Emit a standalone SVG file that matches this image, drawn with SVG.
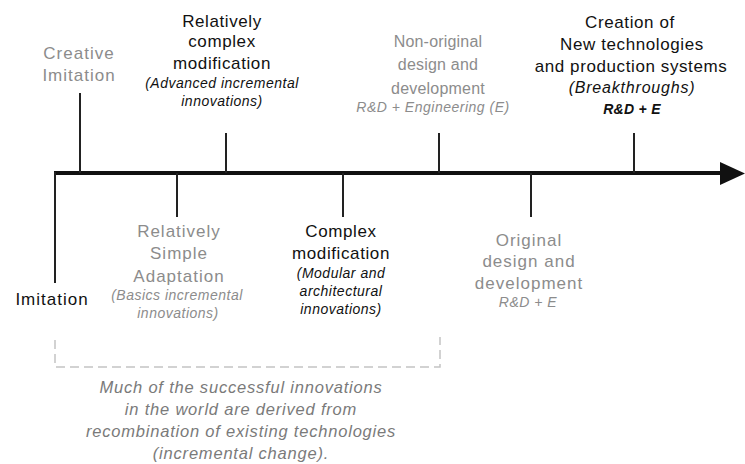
<svg xmlns="http://www.w3.org/2000/svg" width="745" height="464" viewBox="0 0 745 464">
<style>
text{font-family:"Liberation Sans",Arial,sans-serif;text-anchor:middle}
.k{fill:#111;font-size:17px;letter-spacing:0.6px}
.g{fill:#8c8c8c;font-size:17px;letter-spacing:1px}
.g2{fill:#8c8c8c;font-size:16px;letter-spacing:0.2px}
.ki{fill:#111;font-size:14px;font-style:italic;letter-spacing:0.5px}
.gi{fill:#8c8c8c;font-size:14px;font-style:italic;letter-spacing:0.5px}
.foot{fill:#7a7a7a;font-size:16.5px;font-style:italic;letter-spacing:0.8px}
.tick{stroke:#222;stroke-width:2;fill:none}
.dash{stroke:#c4c4c4;stroke-width:1.5;fill:none;stroke-dasharray:9 5}
</style>
<rect width="745" height="464" fill="#fff"/>
<g id="connectors">
<line x1="54" y1="173" x2="722" y2="173" stroke="#111" stroke-width="4"/>
<polygon points="720,162 745,173.5 720,185" fill="#111"/>
<line class="tick" x1="55" y1="172" x2="55" y2="283"/>
<line class="tick" x1="80" y1="93" x2="80" y2="173"/>
<line class="tick" x1="226" y1="133" x2="226" y2="173"/>
<line class="tick" x1="439" y1="133" x2="439" y2="173"/>
<line class="tick" x1="634" y1="133" x2="634" y2="173"/>
<line class="tick" x1="177" y1="173" x2="177" y2="217"/>
<line class="tick" x1="343" y1="173" x2="343" y2="217"/>
<line class="tick" x1="531" y1="173" x2="531" y2="217"/>
<path class="dash" d="M55,340 V367 H440 V337"/>
</g>
<g id="creative-imitation">
<text class="g" x="79" y="59">Creative</text>
<text class="g" x="79" y="81">Imitation</text>
</g>
<g id="relatively-complex">
<text class="k" x="222" y="27">Relatively</text>
<text class="k" x="222" y="47">complex</text>
<text class="k" x="222" y="69">modification</text>
<text class="ki" x="222" y="88">(Advanced  incremental</text>
<text class="ki" x="222" y="106">innovations)</text>
</g>
<g id="non-original">
<text class="g2" x="438" y="47">Non-original</text>
<text class="g2" x="438" y="70">design and</text>
<text class="g2" x="438" y="94">development</text>
<text class="gi" x="433" y="112">R&amp;D + Engineering  (E)</text>
</g>
<g id="creation">
<text class="k" x="630" y="28">Creation of</text>
<text class="k" x="632" y="50">New technologies</text>
<text class="k" x="631" y="72">and production systems</text>
<text class="ki" x="632" y="93" style="font-size:16px;letter-spacing:0.8px">(Breakthroughs)</text>
<text class="ki" x="632" y="114" style="font-weight:bold;letter-spacing:0.3px">R&amp;D + E</text>
</g>
<g id="imitation">
<text class="k" x="52" y="305" style="letter-spacing:1px">Imitation</text>
</g>
<g id="simple-adaptation">
<text class="g" x="179" y="237">Relatively</text>
<text class="g" x="179" y="259">Simple</text>
<text class="g" x="179" y="282">Adaptation</text>
<text class="gi" x="177" y="300">(Basics  incremental</text>
<text class="gi" x="178" y="318">innovations)</text>
</g>
<g id="complex-modification">
<text class="k" x="341" y="237">Complex</text>
<text class="k" x="341" y="259">modification</text>
<text class="ki" x="341" y="278">(Modular  and</text>
<text class="ki" x="341" y="296">architectural</text>
<text class="ki" x="341" y="314">innovations)</text>
</g>
<g id="original">
<text class="g" x="529" y="246">Original</text>
<text class="g" x="529" y="267">design and</text>
<text class="g" x="529" y="289">development</text>
<text class="gi" x="528" y="307">R&amp;D + E</text>
</g>
<g id="footnote">
<text class="foot" x="241" y="393">Much of the successful innovations</text>
<text class="foot" x="241" y="415">in the world are derived from</text>
<text class="foot" x="241" y="437">recombination of existing technologies</text>
<text class="foot" x="241" y="459">(incremental change).</text>
</g>
</svg>
